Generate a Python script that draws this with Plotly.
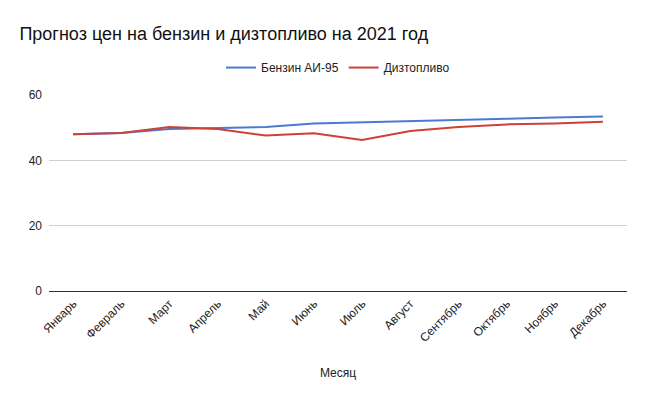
import plotly.graph_objects as go

months = ["Январь", "Февраль", "Март", "Апрель", "Май", "Июнь", "Июль",
          "Август", "Сентябрь", "Октябрь", "Ноябрь", "Декабрь"]
petrol = [48.0, 48.4, 49.6, 49.8, 50.2, 51.3, 51.6, 52.0, 52.3, 52.7, 53.1, 53.4]
diesel = [48.0, 48.4, 50.2, 49.6, 47.6, 48.3, 46.2, 49.0, 50.2, 51.0, 51.3, 51.8]

FONT = "Liberation Sans, Arial, sans-serif"

fig = go.Figure()
fig.add_trace(go.Scatter(x=months, y=petrol, mode="lines", name="Бензин АИ-95",
                         line=dict(color="#4a7bd0", width=2)))
fig.add_trace(go.Scatter(x=months, y=diesel, mode="lines", name="Дизтопливо",
                         line=dict(color="#cf4037", width=2)))

fig.update_layout(
    width=647, height=400,
    margin=dict(l=49, r=20, t=95, b=109),
    paper_bgcolor="white", plot_bgcolor="white",
    font=dict(family=FONT, size=12, color="#222"),
    title=dict(text="Прогноз цен на бензин и дизтопливо на 2021 год",
               x=0.03, xanchor="left", y=0.915, yanchor="middle",
               font=dict(size=18, color="#111", family=FONT)),
    legend=dict(orientation="h", x=0.5, xanchor="center", y=1.14, yanchor="middle",
                font=dict(size=12, color="#222", family=FONT), itemwidth=30),
    showlegend=True,
    xaxis=dict(tickangle=-45, showgrid=False, showline=True, linecolor="#333",
               linewidth=1, ticks="", tickfont=dict(size=12), range=[-0.5, 11.5],
               title=dict(text="Месяц", font=dict(size=12), standoff=24)),
    yaxis=dict(range=[0, 60], tickvals=[0, 20, 40, 60], showgrid=True,
               gridcolor="#d0d0d0", zeroline=False, showline=False, ticks="",
               tickfont=dict(size=12), ticklabelstandoff=6),
)
fig.write_html("out.html")
